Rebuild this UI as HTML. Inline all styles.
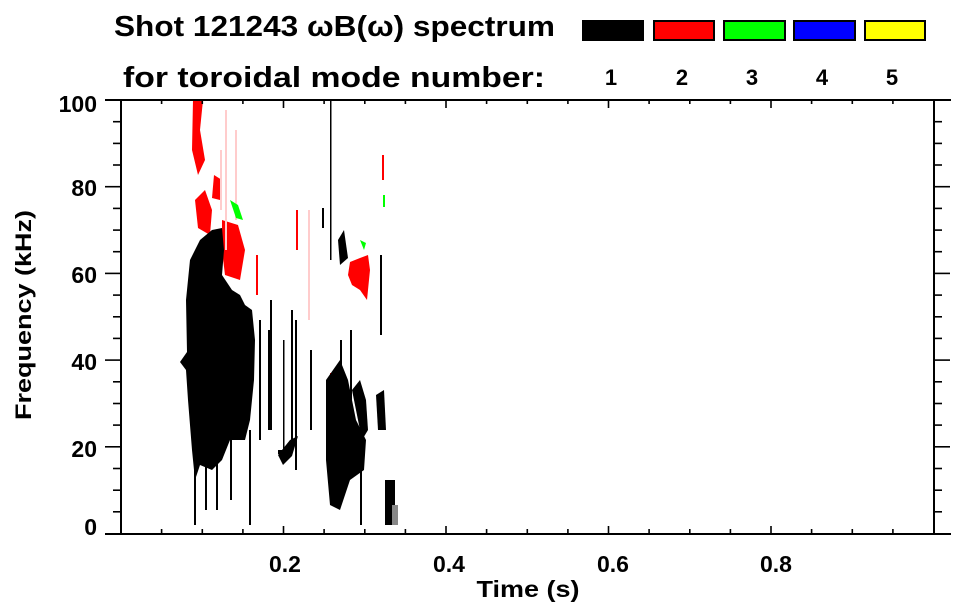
<!DOCTYPE html>
<html><head><meta charset="utf-8"><style>
html,body{margin:0;padding:0;background:#fff}
svg{display:block}
text{font-family:"Liberation Sans",Arial,sans-serif;font-weight:bold;fill:#000}
</style></head><body>
<svg width="963" height="615" viewBox="0 0 963 615" xmlns="http://www.w3.org/2000/svg">
<text x="114" y="36" font-size="29" textLength="441" lengthAdjust="spacingAndGlyphs">Shot 121243 ωB(ω) spectrum</text>
<text x="123" y="87" font-size="29" textLength="422" lengthAdjust="spacingAndGlyphs">for toroidal mode number:</text>
<rect x="582" y="20" width="62" height="21" fill="#000"/>
<rect x="654" y="21" width="60" height="19" fill="#f00" stroke="#000" stroke-width="2"/>
<rect x="724" y="21" width="61" height="19" fill="#0f0" stroke="#000" stroke-width="2"/>
<rect x="794" y="21" width="61" height="19" fill="#00f" stroke="#000" stroke-width="2"/>
<rect x="865" y="21" width="60" height="19" fill="#ff0" stroke="#000" stroke-width="2"/>
<g font-size="22" text-anchor="middle">
<text x="611" y="85">1</text><text x="682" y="85">2</text><text x="752" y="85">3</text><text x="822" y="85">4</text><text x="892" y="85">5</text>
</g>

<g fill="#f00">
<path d="M193 100 L203 100 L200 130 L205 160 L198 175 L192 150 Z"/>
<path d="M195 200 L205 190 L212 210 L210 235 L198 228 Z"/>
<path d="M214 175 L222 180 L220 200 L212 198 Z"/>
<path d="M222 220 L238 225 L245 250 L240 280 L225 275 L222 250 Z"/>
<path d="M350 262 L360 258 L368 255 L370 270 L367 300 L360 290 L352 285 L348 275 Z"/>
<rect x="256" y="255" width="2" height="40"/>
<rect x="296" y="210" width="2" height="40"/>
<rect x="382" y="155" width="2" height="25"/>
<rect x="330" y="373" width="4" height="25"/>
</g>
<g fill="#fcc">
<rect x="225" y="110" width="2" height="140"/>
<rect x="235" y="130" width="2" height="90"/>
<rect x="220" y="150" width="2" height="60"/>
<rect x="308" y="210" width="2" height="110"/>
</g>
<g fill="#0f0">
<path d="M230 200 L238 205 L243 220 L236 218 Z"/>
<path d="M360 240 L366 243 L364 250 Z"/>
<rect x="383" y="195" width="2" height="12"/>
</g>

<g fill="#000">
<path d="M190 260 L200 240 L212 230 L222 228 L224 250 L222 275 L232 290 L240 295 L245 305 L252 310 L255 340 L254 380 L250 420 L245 440 L230 440 L222 460 L212 470 L200 465 L195 480 L192 450 L188 400 L186 370 L180 362 L187 352 L186 300 Z"/>
<rect x="194" y="440" width="2" height="85"/>
<rect x="205" y="450" width="2" height="60"/>
<rect x="216" y="460" width="2" height="50"/>
<rect x="230" y="440" width="2" height="60"/>
<rect x="249" y="430" width="2" height="95"/>
<rect x="259" y="320" width="2" height="120"/>
<rect x="268" y="330" width="2" height="100"/>
<rect x="270" y="300" width="2" height="130"/>
<rect x="283" y="340" width="1.5" height="110"/>
<rect x="291" y="310" width="2" height="140"/>
<rect x="295" y="320" width="2" height="150"/>
<rect x="278" y="450" width="12" height="4"/>
<path d="M278 455 L290 440 L298 436 L292 456 L283 465 Z"/>
<rect x="310" y="350" width="2" height="80"/>
<rect x="322" y="208" width="2" height="20"/>
<rect x="330" y="100" width="1.5" height="160"/>
<path d="M338 240 L344 230 L348 258 L340 265 Z"/>
<path d="M326 380 L340 360 L348 380 L356 420 L366 440 L364 470 L350 480 L340 510 L330 505 L326 460 Z"/>
<path d="M352 390 L360 380 L366 400 L368 430 L362 440 Z"/>
<path d="M376 395 L384 390 L386 430 L378 430 Z"/>
<rect x="380" y="255" width="2" height="80"/>
<rect x="340" y="340" width="2" height="60"/>
<rect x="350" y="330" width="2" height="70"/>
<rect x="385" y="480" width="10" height="45"/>
<rect x="392" y="505" width="6" height="20" fill="#888"/>
<rect x="360" y="470" width="2" height="55"/>
</g>

<g stroke="#000" stroke-width="2" fill="none">
<line x1="105" y1="100" x2="951" y2="100"/>
<line x1="105" y1="534" x2="951" y2="534"/>
<line x1="121" y1="100" x2="121" y2="534"/>
<line x1="934" y1="100" x2="934" y2="534"/>
</g>
<g stroke="#000" stroke-width="1.6">
<line x1="161.6" y1="534" x2="161.6" y2="529"/><line x1="202.3" y1="534" x2="202.3" y2="529"/><line x1="242.9" y1="534" x2="242.9" y2="529"/><line x1="283.5" y1="534" x2="283.5" y2="526"/>
<line x1="324.1" y1="534" x2="324.1" y2="529"/><line x1="364.8" y1="534" x2="364.8" y2="529"/><line x1="405.4" y1="534" x2="405.4" y2="529"/><line x1="446" y1="534" x2="446" y2="526"/>
<line x1="486.6" y1="534" x2="486.6" y2="529"/><line x1="527.3" y1="534" x2="527.3" y2="529"/><line x1="567.9" y1="534" x2="567.9" y2="529"/><line x1="608.5" y1="534" x2="608.5" y2="526"/>
<line x1="649.1" y1="534" x2="649.1" y2="529"/><line x1="689.8" y1="534" x2="689.8" y2="529"/><line x1="730.4" y1="534" x2="730.4" y2="529"/><line x1="771" y1="534" x2="771" y2="526"/>
<line x1="811.6" y1="534" x2="811.6" y2="529"/><line x1="852.3" y1="534" x2="852.3" y2="529"/><line x1="892.9" y1="534" x2="892.9" y2="529"/>
<line x1="161.6" y1="100" x2="161.6" y2="104"/><line x1="202.3" y1="100" x2="202.3" y2="104"/><line x1="242.9" y1="100" x2="242.9" y2="104"/><line x1="283.5" y1="100" x2="283.5" y2="108"/>
<line x1="324.1" y1="100" x2="324.1" y2="104"/><line x1="364.8" y1="100" x2="364.8" y2="104"/><line x1="405.4" y1="100" x2="405.4" y2="104"/><line x1="446" y1="100" x2="446" y2="108"/>
<line x1="486.6" y1="100" x2="486.6" y2="104"/><line x1="527.3" y1="100" x2="527.3" y2="104"/><line x1="567.9" y1="100" x2="567.9" y2="104"/><line x1="608.5" y1="100" x2="608.5" y2="108"/>
<line x1="649.1" y1="100" x2="649.1" y2="104"/><line x1="689.8" y1="100" x2="689.8" y2="104"/><line x1="730.4" y1="100" x2="730.4" y2="104"/><line x1="771" y1="100" x2="771" y2="108"/>
<line x1="811.6" y1="100" x2="811.6" y2="104"/><line x1="852.3" y1="100" x2="852.3" y2="104"/><line x1="892.9" y1="100" x2="892.9" y2="104"/>
</g>
<g id="yt" stroke="#000" stroke-width="1.6">
<line x1="113" y1="121.7" x2="121" y2="121.7"/><line x1="113" y1="143.4" x2="121" y2="143.4"/><line x1="113" y1="165" x2="121" y2="165"/><line x1="105" y1="186.7" x2="121" y2="186.7"/>
<line x1="113" y1="208.4" x2="121" y2="208.4"/><line x1="113" y1="230.1" x2="121" y2="230.1"/><line x1="113" y1="251.7" x2="121" y2="251.7"/><line x1="105" y1="273.4" x2="121" y2="273.4"/>
<line x1="113" y1="295.1" x2="121" y2="295.1"/><line x1="113" y1="316.8" x2="121" y2="316.8"/><line x1="113" y1="338.4" x2="121" y2="338.4"/><line x1="105" y1="360.1" x2="121" y2="360.1"/>
<line x1="113" y1="381.8" x2="121" y2="381.8"/><line x1="113" y1="403.5" x2="121" y2="403.5"/><line x1="113" y1="425.1" x2="121" y2="425.1"/><line x1="105" y1="446.8" x2="121" y2="446.8"/>
<line x1="113" y1="468.5" x2="121" y2="468.5"/><line x1="113" y1="490.2" x2="121" y2="490.2"/><line x1="113" y1="511.8" x2="121" y2="511.8"/>
</g>
<use href="#yt" transform="translate(1055,0) scale(-1,1)"/>
<g font-size="23" text-anchor="end">
<text x="97" y="112">100</text><text x="97" y="196">80</text><text x="97" y="283">60</text><text x="97" y="370">40</text><text x="97" y="457">20</text><text x="97" y="535">0</text>
</g>
<g font-size="23" text-anchor="middle">
<text x="285" y="572">0.2</text><text x="449" y="572">0.4</text><text x="613" y="572">0.6</text><text x="776" y="572">0.8</text>
<text x="528" y="597" textLength="103" lengthAdjust="spacingAndGlyphs">Time (s)</text>
</g>
<text font-size="22" text-anchor="middle" transform="translate(31,315) rotate(-90)" textLength="210" lengthAdjust="spacingAndGlyphs">Frequency (kHz)</text>
</svg>
</body></html>
